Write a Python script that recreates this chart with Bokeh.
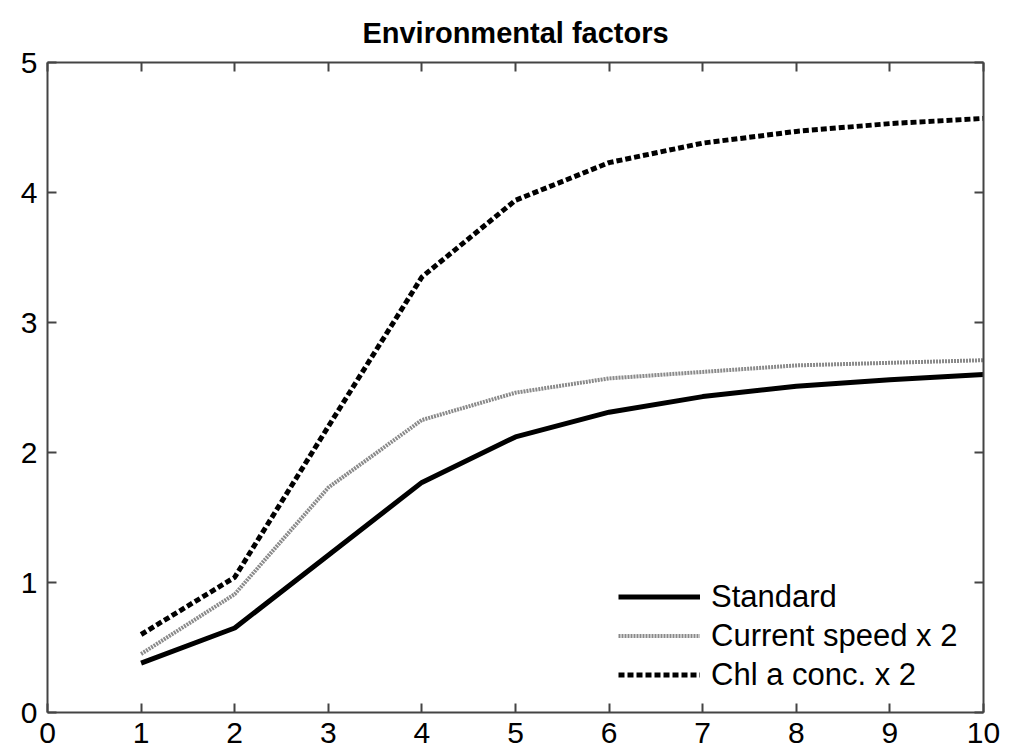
from bokeh.plotting import figure
from bokeh.models import (Range1d, FixedTicker, LinearAxis, CustomJSTickFormatter,
                          Legend, LegendItem, Title)
from bokeh.embed import file_html
from bokeh.resources import INLINE

x = [1, 2, 3, 4, 5, 6, 7, 8, 9, 10]
standard = [0.38, 0.65, 1.21, 1.77, 2.12, 2.31, 2.43, 2.51, 2.56, 2.60]
current_speed = [0.45, 0.91, 1.73, 2.25, 2.46, 2.57, 2.62, 2.67, 2.69, 2.71]
chl_conc = [0.60, 1.04, 2.20, 3.35, 3.94, 4.23, 4.38, 4.47, 4.53, 4.57]

x_ticks = [0, 1, 2, 3, 4, 5, 6, 7, 8, 9, 10]
y_ticks = [0, 1, 2, 3, 4, 5]

FONT = "Liberation Sans"
AXIS_COLOR = "#444444"

p = figure(width=1010, height=752, output_backend="svg", toolbar_location=None,
           x_range=Range1d(0, 10), y_range=Range1d(0, 5),
           min_border_left=47, min_border_right=27, min_border_top=62,
           min_border_bottom=40, title=None)
p.outline_line_color = None
p.xgrid.visible = False
p.ygrid.visible = False
p.background_fill_color = "white"
p.border_fill_color = "white"


def style_axis(ax, ticks, labels=True):
    ax.ticker = FixedTicker(ticks=ticks)
    ax.axis_line_color = AXIS_COLOR
    ax.axis_line_width = 2
    ax.major_tick_line_color = AXIS_COLOR
    ax.major_tick_line_width = 2
    ax.major_tick_in = 9
    ax.major_tick_out = 0
    ax.minor_tick_line_color = None
    ax.major_label_text_font = FONT
    ax.major_label_text_font_size = "30px"
    ax.major_label_text_color = "black"
    if not labels:
        ax.formatter = CustomJSTickFormatter(code="return ''")
        ax.major_label_text_font_size = "0px"
        ax.major_label_standoff = 0


style_axis(p.xaxis[0], x_ticks)
p.xaxis[0].major_label_standoff = 10
style_axis(p.yaxis[0], y_ticks)
p.yaxis[0].major_label_standoff = 10

top_axis = LinearAxis()
style_axis(top_axis, x_ticks, labels=False)
p.add_layout(top_axis, "above")
right_axis = LinearAxis()
style_axis(right_axis, y_ticks, labels=False)
p.add_layout(right_axis, "right")

title = Title(text="Environmental factors", align="center", text_font=FONT,
              text_font_size="29px", text_font_style="bold", text_color="black",
              standoff=28)
p.add_layout(title, "above")

r_std = p.line(x, standard, line_color="black", line_width=5)
r_cur = p.line(x, current_speed, line_color="#8a8a8a", line_width=4, line_dash="2 1")
r_chl = p.line(x, chl_conc, line_color="black", line_width=5, line_dash="6 3")

legend = Legend(items=[
    LegendItem(label="Standard", renderers=[r_std]),
    LegendItem(label="Current speed x 2", renderers=[r_cur]),
    LegendItem(label="Chl a conc. x 2", renderers=[r_chl]),
], location=(571, 18))
legend.border_line_color = None
legend.background_fill_alpha = 0
legend.padding = 0
legend.margin = 0
legend.spacing = 0
legend.glyph_width = 82
legend.glyph_height = 39
legend.label_height = 39
legend.label_standoff = 11
legend.label_text_font = FONT
legend.label_text_font_size = "31px"
legend.label_text_color = "black"
p.add_layout(legend, "center")

open("out.html", "w").write(file_html(p, INLINE))
